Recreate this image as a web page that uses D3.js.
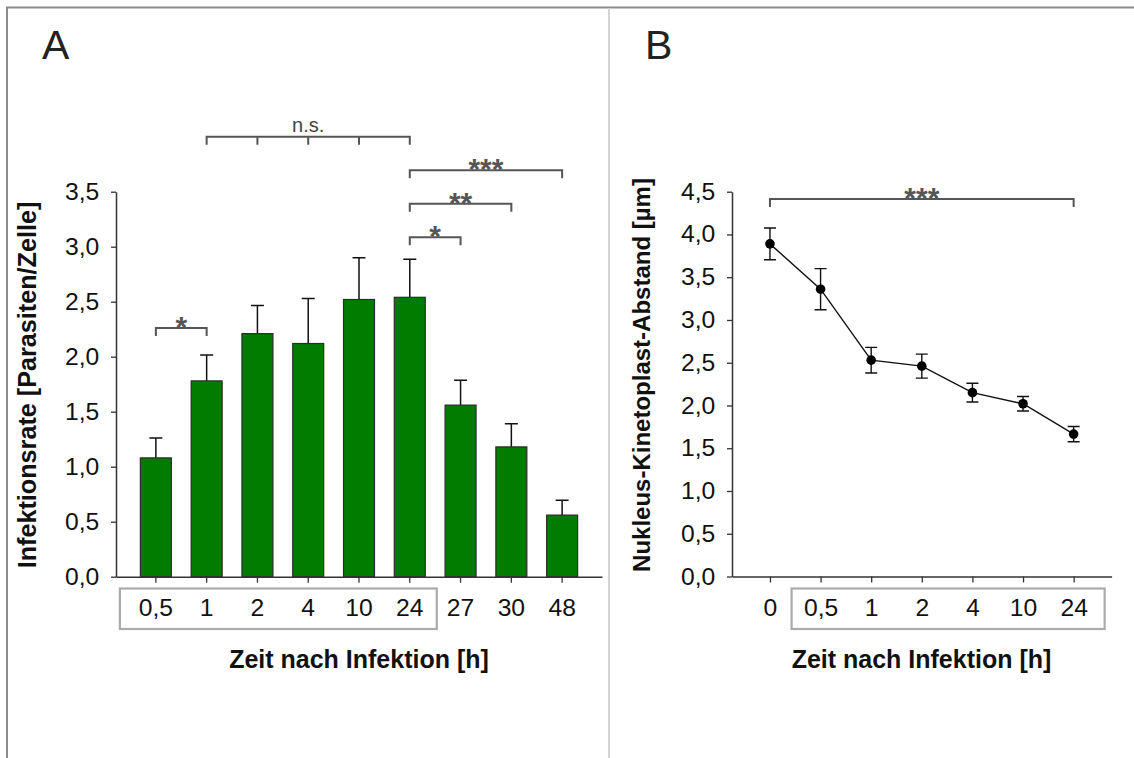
<!DOCTYPE html>
<html>
<head>
<meta charset="utf-8">
<script src="https://cdn.jsdelivr.net/npm/d3@7"></script>
<style>
  body { margin: 0; background: #fff; }
  svg text { font-family: "Liberation Sans", Arial, sans-serif; }
</style>
</head>
<body>
<svg id="chart" width="1134" height="758"></svg>
<script>
// ── Panel A: infection rate per time point ──
const catsA = ['0,5', '1', '2', '4', '10', '24', '27', '30', '48'];
const rateA = [1.08, 1.78, 2.21, 2.12, 2.52, 2.54, 1.56, 1.18, 0.56];
const errA  = [0.18, 0.235, 0.255, 0.41, 0.38, 0.345, 0.225, 0.21, 0.135];
const ticksA = [0, 0.5, 1, 1.5, 2, 2.5, 3, 3.5];

// significance brackets (A): categories + level in data units
const sigA = [
  { cats: ['0,5', '1'], level: 2.26, label: '*' },
  { cats: ['1', '2', '4', '10', '24'], level: 4.0, label: 'n.s.' },
  { cats: ['24', '48'], level: 3.695, label: '***' },
  { cats: ['24', '30'], level: 3.39, label: '**' },
  { cats: ['24', '27'], level: 3.085, label: '*' },
];

// ── Panel B: nucleus–kinetoplast distance ──
const catsB = ['0', '0,5', '1', '2', '4', '10', '24'];
const distB = [3.89, 3.36, 2.53, 2.46, 2.15, 2.02, 1.665];
const errB  = [0.185, 0.24, 0.15, 0.14, 0.11, 0.085, 0.09];
const ticksB = [0, 0.5, 1, 1.5, 2, 2.5, 3, 3.5, 4, 4.5];
const sigB = [{ cats: ['0', '24'], level: 4.415, label: '***' }];

const xTitle = 'Zeit nach Infektion [h]';
const yTitleA = 'Infektionsrate [Parasiten/Zelle]';
const yTitleB = 'Nukleus-Kinetoplast-Abstand [µm]';

const de = d3.formatLocale({ decimal: ',', thousands: '.', grouping: [3], currency: ['', '€'] });
const fmt = de.format('.1f');

const svg = d3.select('#chart');
svg.append('rect').attr('width', 1134).attr('height', 758).attr('fill', '#fff');

// frame + divider
svg.append('path').attr('d', 'M7,758 V7.5 H1134').attr('fill', 'none')
  .attr('stroke', '#8c8c8c').attr('stroke-width', 2);
svg.append('line').attr('x1', 609).attr('x2', 609).attr('y1', 8).attr('y2', 758)
  .attr('stroke', '#d4d4d4').attr('stroke-width', 2);

const AX = '#333';
const SIG = '#555';

function styleAxis(g) {
  g.selectAll('.domain').attr('stroke', AX).attr('stroke-width', 1.5);
  g.selectAll('.tick line').attr('stroke', AX).attr('stroke-width', 1.3);
  // tick labels in the source are a bit wider than Arial → stretch horizontally
  g.selectAll('.tick text').attr('fill', '#111').style('font-size', '23.5px')
    .attr('transform', 'scale(1.05,1)');
}

function brackets(sigs, x, y, g) {
  sigs.forEach(s => {
    const xs = s.cats.map(c => x(c));
    const yy = y(s.level);
    g.append('path')
      .attr('d', `M${xs[0]},${yy + 8} V${yy} H${xs[xs.length - 1]} V${yy + 8}` +
        xs.slice(1, -1).map(v => ` M${v},${yy} V${yy + 8}`).join(''))
      .attr('fill', 'none').attr('stroke', SIG).attr('stroke-width', 2);
    const isNs = s.label === 'n.s.';
    g.append('text')
      .attr('x', (xs[0] + xs[xs.length - 1]) / 2)
      .attr('y', isNs ? yy - 5 : yy + 9)
      .attr('text-anchor', 'middle')
      .attr('fill', isNs ? '#444' : SIG)
      .style('font-size', isNs ? '20px' : '30px')
      .style('font-weight', isNs ? 'normal' : 'bold')
      .text(s.label);
  });
}

function labelBox(g, x0, x1) {
  g.append('rect').attr('x', x0).attr('y', 588.5).attr('width', x1 - x0).attr('height', 40.5)
    .attr('fill', 'none').attr('stroke', '#ababab').attr('stroke-width', 2.2);
}

// ═════════ Panel A ═════════
{
  const g = svg.append('g');
  const x = d3.scaleBand().domain(catsA).range([116, 602]).paddingInner(0.39).paddingOuter(0.48);
  const y = d3.scaleLinear().domain([0, 3.5]).range([576.7, 191.7]);
  const cx = c => x(c) + x.bandwidth() / 2;

  g.append('text').attr('x', 42).attr('y', 59).style('font-size', '41px').attr('fill', '#222').text('A');

  labelBox(g, cx('0,5') - 36, cx('24') + 27);

  // error bars (upper only)
  g.selectAll('.errA').data(catsA).enter().append('path')
    .attr('d', (c, i) => {
      const xc = cx(c), yt = y(rateA[i] + errA[i]);
      return `M${xc},${y(rateA[i])} V${yt} M${xc - 6.5},${yt} H${xc + 6.5}`;
    })
    .attr('stroke', '#111').attr('stroke-width', 1.5).attr('fill', 'none');

  g.selectAll('.barA').data(catsA).enter().append('rect')
    .attr('x', c => x(c)).attr('width', x.bandwidth())
    .attr('y', (c, i) => y(rateA[i])).attr('height', (c, i) => y(0) - y(rateA[i]))
    .attr('fill', '#017c01').attr('stroke', '#2b2b2b').attr('stroke-width', 1.2);

  const yAx = g.append('g').attr('transform', 'translate(116,0)')
    .call(d3.axisLeft(y).tickValues(ticksA).tickFormat(fmt).tickSize(5).tickSizeOuter(0).tickPadding(11));
  styleAxis(yAx);

  const xAx = g.append('g').attr('transform', `translate(0,${y(0)})`)
    .call(d3.axisBottom(x).tickSize(6).tickSizeOuter(0).tickPadding(17));
  styleAxis(xAx);

  brackets(sigA, cx, y, g);

  g.append('text').attr('x', 359).attr('y', 668).attr('text-anchor', 'middle')
    .style('font-size', '25px').style('font-weight', 'bold').attr('fill', '#111').text(xTitle);
  g.append('text').attr('transform', 'translate(36,385) rotate(-90)').attr('text-anchor', 'middle')
    .style('font-size', '25.2px').style('font-weight', 'bold').attr('fill', '#111').text(yTitleA);
}

// ═════════ Panel B ═════════
{
  const g = svg.append('g');
  const x = d3.scalePoint().domain(catsB).range([732, 1111.6]).padding(0.75);
  const y = d3.scaleLinear().domain([0, 4.5]).range([576.5, 191.7]);

  g.append('text').attr('x', 645).attr('y', 59).style('font-size', '41px').attr('fill', '#222').text('B');

  labelBox(g, x('0,5') - 29, x('24') + 31);

  const yAx = g.append('g').attr('transform', 'translate(732,0)')
    .call(d3.axisLeft(y).tickValues(ticksB).tickFormat(fmt).tickSize(5).tickSizeOuter(0).tickPadding(11));
  styleAxis(yAx);

  const xAx = g.append('g').attr('transform', `translate(0,${y(0)})`)
    .call(d3.axisBottom(x).tickSize(6).tickSizeOuter(0).tickPadding(17));
  styleAxis(xAx);

  brackets(sigB, x, y, g);

  const line = d3.line().x((d, i) => x(catsB[i])).y(d => y(d));
  g.append('path').datum(distB).attr('d', line)
    .attr('fill', 'none').attr('stroke', '#111').attr('stroke-width', 1.4);

  g.selectAll('.errB').data(catsB).enter().append('path')
    .attr('d', (c, i) => {
      const xc = x(c), y1 = y(distB[i] + errB[i]), y2 = y(distB[i] - errB[i]);
      return `M${xc},${y1} V${y2} M${xc - 6},${y1} H${xc + 6} M${xc - 6},${y2} H${xc + 6}`;
    })
    .attr('stroke', '#111').attr('stroke-width', 1.4).attr('fill', 'none');

  g.selectAll('.dotB').data(catsB).enter().append('circle')
    .attr('cx', c => x(c)).attr('cy', (c, i) => y(distB[i])).attr('r', 4.8)
    .attr('fill', '#000');

  g.append('text').attr('x', 921.5).attr('y', 668).attr('text-anchor', 'middle')
    .style('font-size', '25px').style('font-weight', 'bold').attr('fill', '#111').text(xTitle);
  g.append('text').attr('transform', 'translate(650,375) rotate(-90)').attr('text-anchor', 'middle')
    .style('font-size', '24px').style('font-weight', 'bold').attr('fill', '#111').text(yTitleB);
}
</script>
</body>
</html>
